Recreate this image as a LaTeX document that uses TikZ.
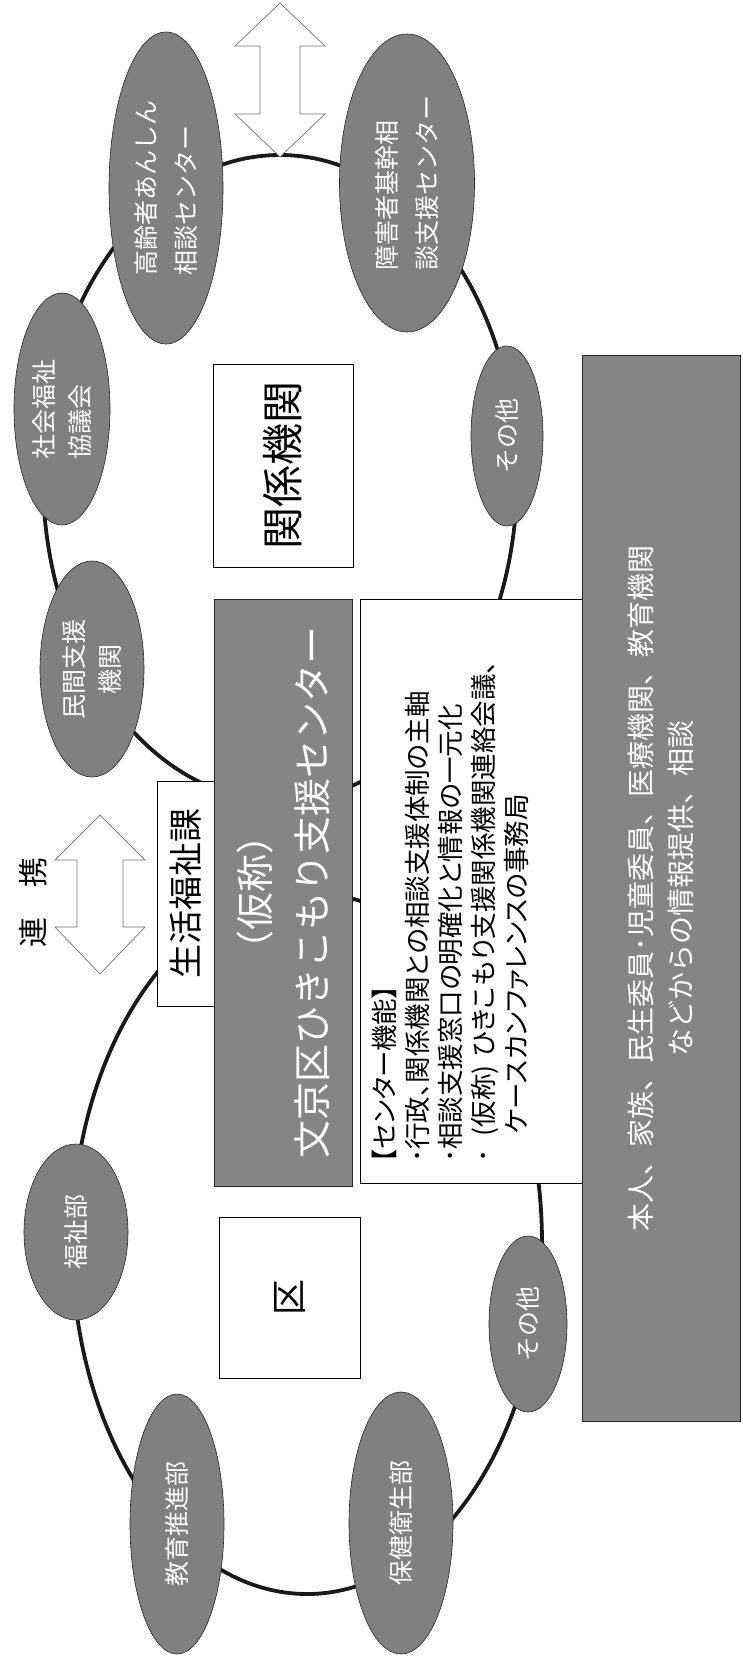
\documentclass[tikz,border=0pt]{standalone}
\usepackage{fontspec}
\setmainfont{Noto Sans CJK JP}
\newfontfamily\jpp[RawFeature=+palt]{Noto Sans CJK JP}
\usetikzlibrary{shapes.geometric}
\tikzset{
  ringline/.style={line width=3.8pt, draw=black!90},
  org/.style={ellipse, draw=black!85, line width=0.6pt, fill=black!50, text=white,
    inner sep=0pt, rotate=90, font=\fontsize{25}{40}\selectfont},
  darkbox/.style={rectangle, draw=black!85, line width=0.8pt, fill=black!48, text=white,
    inner sep=0pt, rotate=90, align=center},
  whitebox/.style={rectangle, draw=black, line width=0.8pt, fill=white,
    inner sep=0pt, rotate=90, align=center},
  dblarrow/.style={draw=black!55, line width=0.7pt, fill=white},
  plain/.style={inner sep=0pt, rotate=90}
}
\begin{document}
\begin{tikzpicture}[x=1pt, y=-1pt]
\useasboundingbox (0,0) rectangle (742,1657);
\fill[white] (0,0) rectangle (742,1657);

% the two rings
\coordinate (ringA) at (280,478);
\coordinate (ringB) at (307,1243);
\draw[ringline] (ringA) ellipse [x radius=237pt, y radius=323pt];
\draw[ringline] (ringB) ellipse [x radius=235pt, y radius=351pt];

% double arrows
\draw[dblarrow] (280,3) -- (325,46) -- (300,46) -- (300,114) -- (325,114) -- (280,157)
  -- (235,114) -- (260,114) -- (260,46) -- (235,46) -- cycle;
\draw[dblarrow] (100,815) -- (145,860) -- (123,860) -- (123,927) -- (145,927) -- (100,974)
  -- (55,927) -- (77,927) -- (77,860) -- (55,860) -- cycle;
\node[plain, font=\fontsize{30}{30}\selectfont] (renkei) at (33,902) {連\hspace{1em}携};

% organisations on the upper ring
\node[org, minimum width=312pt, minimum height=114pt, align=left] (koreisha) at (166,188)
  {高齢者あんしん\\相談センター};
\node[org, minimum width=298pt, minimum height=135pt, align=left] (shogai) at (407,183)
  {障害者基幹相\\談支援センター};
\node[org, minimum width=232pt, minimum height=96pt, align=left,
  font=\fontsize{25}{36}\selectfont] (shakyo) at (62,409) {社会福祉\\協議会};
\node[org, minimum width=216pt, minimum height=104pt, align=center,
  font=\fontsize{25}{36}\selectfont] (minkan) at (92,669) {民間支援\\機関};
\node[org, minimum width=180pt, minimum height=72pt] (sonotaA) at (507,436) {その他};

% organisations on the lower ring
\node[org, minimum width=176pt, minimum height=104pt] (fukushibu) at (76,1232) {福祉部};
\node[org, minimum width=176pt, minimum height=78pt] (sonotaB) at (528,1324) {その他};
\node[org, minimum width=260pt, minimum height=94pt] (kyoiku) at (177,1524) {教育推進部};
\node[org, minimum width=262pt, minimum height=104pt] (hoken) at (401,1523) {保健衛生部};

% boxes
\node[whitebox, minimum width=203pt, minimum height=140pt,
  font=\fontsize{42}{42}\selectfont] (kankei) at (283,465.5) {関係機関};
\node[whitebox, minimum width=161pt, minimum height=141pt,
  font=\fontsize{36}{36}\selectfont] (ku) at (289.5,1297.5) {区};
\node[whitebox, minimum width=225pt, minimum height=57pt,
  font=\fontsize{34}{34}\selectfont] (seikatsu) at (185.5,893.5) {生活福祉課};
\node[darkbox, minimum width=587pt, minimum height=138pt,
  font=\fontsize{38}{57}\selectfont] (center) at (283,892.5)
  {（仮称）\\文京区ひきこもり支援センター};
\node[whitebox, minimum width=584pt, minimum height=222pt] (func) at (471,891) {};
\node[plain, anchor=north west, align=left,
  font=\jpp\fontsize{26.5}{33}\selectfont] (functext) at (372,1163)
  {【センター機能】\\
   ･行政、関係機関との相談支援体制の主軸\\
   ･相談支援窓口の明確化と情報の一元化\\
   ･\hspace{0.5em}(仮称)\hspace{0.3em}ひきこもり支援関係機関連絡会議、\\
   \hspace{1.1em}ケースカンファレンスの事務局};
\node[darkbox, minimum width=1066pt, minimum height=158pt,
  font=\fontsize{28}{40}\selectfont] (source) at (661,888)
  {本人、家族、民生委員･児童委員、医療機関、教育機関\\などからの情報提供、相談};
\end{tikzpicture}
\end{document}
